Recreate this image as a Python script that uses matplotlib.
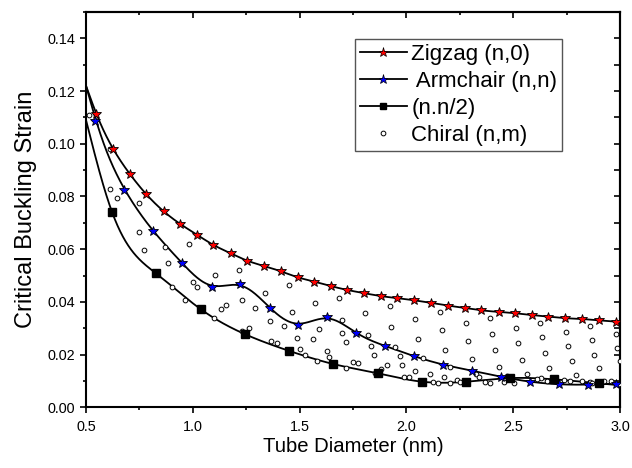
import numpy as np
import matplotlib
matplotlib.use("Agg")
import matplotlib.pyplot as plt
from matplotlib.ticker import MultipleLocator

plt.rcParams['font.family'] = ['Liberation Sans', 'DejaVu Sans']

# ---------------- data ----------------
zig_x = [0.548, 0.626, 0.705, 0.781, 0.864, 0.940, 1.019, 1.096, 1.178, 1.255,
         1.334, 1.412, 1.491, 1.568, 1.646, 1.724, 1.802, 1.880, 1.958, 2.037,
         2.116, 2.194, 2.272, 2.350, 2.431, 2.509, 2.587, 2.665, 2.744, 2.822,
         2.900, 2.981]
zig_y = [0.1113, 0.0981, 0.0885, 0.0809, 0.0743, 0.0696, 0.0655, 0.0616, 0.0584, 0.0556,
         0.0536, 0.0516, 0.0493, 0.0477, 0.0460, 0.0445, 0.0433, 0.0422, 0.0414, 0.0406,
         0.0396, 0.0386, 0.0377, 0.0368, 0.0362, 0.0357, 0.0350, 0.0344, 0.0338, 0.0335,
         0.0330, 0.0325]

arm_x = [0.544, 0.679, 0.815, 0.951, 1.089, 1.223, 1.359, 1.494, 1.629, 1.765,
         1.900, 2.035, 2.171, 2.307, 2.442, 2.578, 2.715, 2.850, 2.982]
arm_y = [0.1087, 0.0826, 0.0668, 0.0546, 0.0455, 0.0469, 0.0378, 0.0311, 0.0344, 0.0281,
         0.0233, 0.0194, 0.0162, 0.0139, 0.0116, 0.0097, 0.0087, 0.0086, 0.0090]

half_x = [0.620, 0.828, 1.037, 1.245, 1.451, 1.658, 1.866, 2.072, 2.280, 2.486, 2.693, 2.901]
half_y = [0.0742, 0.0508, 0.0372, 0.0277, 0.0214, 0.0164, 0.0129, 0.0097, 0.0097, 0.0111, 0.0106, 0.0091]

# values of the drawn curves at the left edge of the plot
curve_start_x = 0.5
zig_start_y = 0.122
arm_start_y = 0.122
half_start_y = 0.109

chi_x = [0.515, 0.614, 0.612, 0.643, 0.748, 0.748, 0.772, 0.872, 0.982, 0.883,
         1.106, 1.216, 1.000, 1.020, 0.904, 0.962, 1.339, 1.230, 1.289, 1.156,
         1.130, 1.097, 1.360, 1.263, 1.232, 1.364, 1.393, 1.452, 1.573, 1.684,
         1.806, 1.921, 1.464, 1.425, 1.589, 1.698, 1.698, 1.822, 1.930, 1.489,
         1.562, 1.718, 1.834, 1.501, 1.527, 1.626, 1.638, 1.583, 1.848, 1.750,
         1.771, 1.718, 1.907, 1.882, 1.855, 2.156, 2.391, 2.041, 2.277, 2.166,
         2.400, 2.055, 2.288, 1.948, 2.182, 2.413, 1.968, 2.077, 2.309, 1.979,
         2.205, 2.434, 2.041, 2.109, 2.178, 1.990, 2.014, 2.325, 2.338, 2.124,
         2.146, 2.206, 2.239, 2.249, 2.370, 2.392, 2.471, 2.458, 2.626, 2.861,
         2.511, 2.745, 2.980, 2.633, 2.867, 2.522, 2.756, 2.987, 2.647, 2.880,
         2.540, 2.773, 2.998, 2.666, 2.901, 2.563, 2.795, 2.630, 2.503, 2.609,
         2.656, 2.697, 2.739, 2.767, 2.822, 2.859, 2.869, 2.925, 2.956, 2.993]
chi_y = [0.1108, 0.0980, 0.0827, 0.0795, 0.0776, 0.0667, 0.0597, 0.0608, 0.0618, 0.0546,
         0.0503, 0.0521, 0.0475, 0.0457, 0.0456, 0.0407, 0.0435, 0.0408, 0.0378, 0.0388,
         0.0372, 0.0340, 0.0326, 0.0300, 0.0288, 0.0252, 0.0243, 0.0463, 0.0394, 0.0416,
         0.0359, 0.0384, 0.0362, 0.0310, 0.0298, 0.0331, 0.0282, 0.0276, 0.0306, 0.0264,
         0.0261, 0.0246, 0.0232, 0.0221, 0.0198, 0.0213, 0.0189, 0.0177, 0.0198, 0.0173,
         0.0167, 0.0150, 0.0162, 0.0144, 0.0129, 0.0362, 0.0339, 0.0335, 0.0319, 0.0292,
         0.0279, 0.0260, 0.0252, 0.0230, 0.0219, 0.0216, 0.0194, 0.0187, 0.0183, 0.0161,
         0.0152, 0.0152, 0.0138, 0.0128, 0.0116, 0.0114, 0.0114, 0.0126, 0.0115, 0.0097,
         0.0091, 0.0091, 0.0104, 0.0096, 0.0096, 0.0091, 0.0118, 0.0097, 0.0321, 0.0309,
         0.0300, 0.0287, 0.0280, 0.0266, 0.0255, 0.0243, 0.0233, 0.0225, 0.0207, 0.0200,
         0.0181, 0.0176, 0.0175, 0.0150, 0.0148, 0.0126, 0.0123, 0.0112, 0.0091, 0.0106,
         0.0101, 0.0104, 0.0104, 0.0100, 0.0101, 0.0097, 0.0091, 0.0101, 0.0101, 0.0090]

x_ticks = [0.5, 1.0, 1.5, 2.0, 2.5, 3.0]
y_ticks = [0.00, 0.02, 0.04, 0.06, 0.08, 0.10, 0.12, 0.14]


# ---------------- smooth curve helper ----------------
def natural_spline(x, y, xs):
    x = np.asarray(x, float); y = np.asarray(y, float)
    n = len(x); h = np.diff(x)
    A = np.zeros((n, n)); r = np.zeros(n)
    A[0, 0] = 1; A[-1, -1] = 1
    for i in range(1, n - 1):
        A[i, i - 1] = h[i - 1]; A[i, i] = 2 * (h[i - 1] + h[i]); A[i, i + 1] = h[i]
        r[i] = 3 * ((y[i + 1] - y[i]) / h[i] - (y[i] - y[i - 1]) / h[i - 1])
    c = np.linalg.solve(A, r)
    b = np.diff(y) / h - h * (2 * c[:-1] + c[1:]) / 3
    d = np.diff(c) / (3 * h)
    idx = np.clip(np.searchsorted(x, xs) - 1, 0, n - 2)
    dx = xs - x[idx]
    return y[idx] + b[idx] * dx + c[idx] * dx ** 2 + d[idx] * dx ** 3


def smooth_curve(x, y, x0, y0, sigma=0.03):
    xs = np.linspace(0.5, 3.0, 1001)
    ys = natural_spline([x0] + list(x), [y0] + list(y), xs)
    step = xs[1] - xs[0]
    k = int(4 * sigma / step)
    ker = np.exp(-0.5 * (np.arange(-k, k + 1) * step / sigma) ** 2)
    ker /= ker.sum()
    left = 2 * ys[0] - ys[1:k + 1][::-1]
    right = 2 * ys[-1] - ys[-k - 1:-1][::-1]
    ypad = np.concatenate([left, ys, right])
    return xs, np.convolve(ypad, ker, mode='valid')


# ---------------- figure ----------------
fig = plt.figure(figsize=(6.32, 4.68), dpi=100)
ax = fig.add_axes([0.1361, 0.1297, 0.845, 0.8447])

lw_curve = 1.3
cx, cy = smooth_curve(zig_x, zig_y, curve_start_x, zig_start_y, 0.02)
ax.plot(cx, cy, color='black', lw=lw_curve, zorder=2)
cx, cy = smooth_curve(arm_x, arm_y, curve_start_x, arm_start_y, 0.04)
ax.plot(cx, cy, color='black', lw=lw_curve, zorder=2)
cx, cy = smooth_curve(half_x, half_y, curve_start_x, half_start_y, 0.02)
ax.plot(cx, cy, color='black', lw=lw_curve, zorder=2)

ax.plot(chi_x, chi_y, ls='none', marker='o', ms=3.4, mfc='white', mec='black',
        mew=0.7, zorder=3)
ax.plot(zig_x, zig_y, ls='none', marker='*', ms=7.2, mfc='red', mec='black',
        mew=0.6, zorder=4)
ax.plot(arm_x, arm_y, ls='none', marker='*', ms=7.2, mfc='blue', mec='black',
        mew=0.6, zorder=4)
ax.plot(half_x, half_y, ls='none', marker='s', ms=5.5, mfc='black', mec='black',
        zorder=4)

# legend handles
h1, = ax.plot([], [], color='black', lw=lw_curve, marker='*', ms=6.5, mfc='red', mec='black', mew=0.5)
h2, = ax.plot([], [], color='black', lw=lw_curve, marker='*', ms=6.5, mfc='blue', mec='black', mew=0.5)
h3, = ax.plot([], [], color='black', lw=lw_curve, marker='s', ms=5.0, mfc='black', mec='black')
h4, = ax.plot([], [], ls='none', marker='o', ms=3.4, mfc='white', mec='black', mew=0.7)
leg = ax.legend([h1, h2, h3, h4],
                ['Zigzag (n,0)', ' Armchair (n,n)', '(n.n/2)', 'Chiral (n,m)'],
                loc='upper left', bbox_to_anchor=(0.5037, 0.931), borderaxespad=0,
                fancybox=False, framealpha=1, edgecolor='#555555', fontsize=16,
                handlelength=2.1, handletextpad=0.22, labelspacing=0.27,
                borderpad=0.22)
leg.get_frame().set_linewidth(1.0)

ax.set_xlim(0.5, 3.0)
ax.set_ylim(0.0, 0.15)
ax.set_xticks(x_ticks)
ax.set_yticks(y_ticks)
ax.set_xticklabels([f'{v:.1f}' for v in x_ticks])
ax.set_yticklabels([f'{v:.2f}' for v in y_ticks])
ax.xaxis.set_minor_locator(MultipleLocator(0.25))
ax.yaxis.set_minor_locator(MultipleLocator(0.01))
ax.tick_params(axis='y', which='major', direction='out', length=4.5, width=1.2,
               labelsize=10.4, colors='black', pad=3.5)
ax.tick_params(axis='x', which='major', direction='out', length=4.5, width=1.2,
               labelsize=10.4, colors='black', pad=5)
ax.tick_params(which='minor', direction='out', length=2.5, width=1.2)

for s in ax.spines.values():
    s.set_linewidth(1.5)

sec_y = ax.secondary_yaxis('right')
sec_y.set_yticks(y_ticks)
sec_y.yaxis.set_minor_locator(MultipleLocator(0.01))
sec_y.tick_params(which='major', direction='in', length=4.5, width=1.2, labelright=False)
sec_y.tick_params(which='minor', direction='in', length=4.5, width=1.2)
sec_y.spines['right'].set_linewidth(1.5)

sec_x = ax.secondary_xaxis('top')
sec_x.set_xticks(x_ticks)
sec_x.xaxis.set_minor_locator(MultipleLocator(0.25))
sec_x.tick_params(which='major', direction='in', length=4.5, width=1.2, labeltop=False)
sec_x.tick_params(which='minor', direction='in', length=2.5, width=1.2)
sec_x.spines['top'].set_linewidth(1.5)

ax.set_xlabel('Tube Diameter (nm)', fontsize=14.6)
ax.xaxis.set_label_coords(0.5, -0.075)
ax.set_ylabel('Critical Buckling Strain', fontsize=17)
ax.yaxis.set_label_coords(-0.0918, 0.5)

fig.savefig('out.png', dpi=100)
